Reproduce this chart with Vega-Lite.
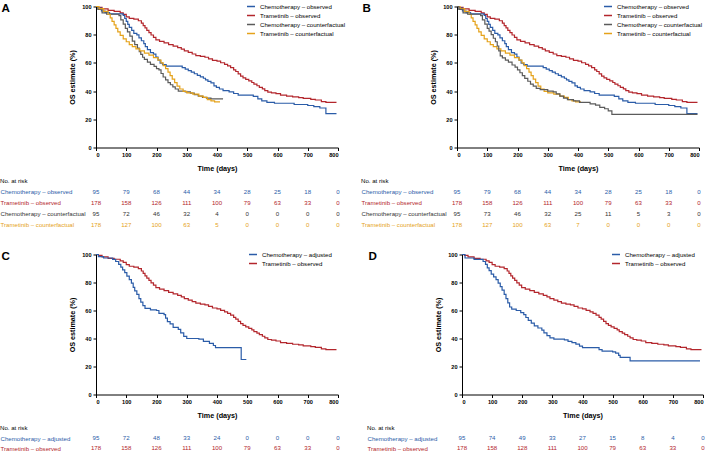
{
"$schema": "https://vega.github.io/schema/vega-lite/v6.json",
"padding": {"left": 0, "top": 1.5, "right": 0, "bottom": 0},
"datasets": {
"km": [
{"p":"ABCD","s":"Trametinib – observed","t":0,"v":100},{"p":"ABCD","s":"Trametinib – observed","t":8,"v":99.4},{"p":"ABCD","s":"Trametinib – observed","t":20,"v":98.3},{"p":"ABCD","s":"Trametinib – observed","t":40,"v":97.2},{"p":"ABCD","s":"Trametinib – observed","t":60,"v":96.6},{"p":"ABCD","s":"Trametinib – observed","t":80,"v":95.5},{"p":"ABCD","s":"Trametinib – observed","t":90,"v":94.4},{"p":"ABCD","s":"Trametinib – observed","t":100,"v":92.7},{"p":"ABCD","s":"Trametinib – observed","t":110,"v":91.6},{"p":"ABCD","s":"Trametinib – observed","t":125,"v":91.0},{"p":"ABCD","s":"Trametinib – observed","t":140,"v":89.9},{"p":"ABCD","s":"Trametinib – observed","t":150,"v":88.2},{"p":"ABCD","s":"Trametinib – observed","t":156,"v":86.5},{"p":"ABCD","s":"Trametinib – observed","t":162,"v":84.8},{"p":"ABCD","s":"Trametinib – observed","t":168,"v":83.1},{"p":"ABCD","s":"Trametinib – observed","t":175,"v":81.5},{"p":"ABCD","s":"Trametinib – observed","t":182,"v":79.8},{"p":"ABCD","s":"Trametinib – observed","t":190,"v":78.1},{"p":"ABCD","s":"Trametinib – observed","t":198,"v":76.4},{"p":"ABCD","s":"Trametinib – observed","t":210,"v":75.3},{"p":"ABCD","s":"Trametinib – observed","t":225,"v":74.2},{"p":"ABCD","s":"Trametinib – observed","t":240,"v":73.0},{"p":"ABCD","s":"Trametinib – observed","t":255,"v":71.9},{"p":"ABCD","s":"Trametinib – observed","t":270,"v":70.8},{"p":"ABCD","s":"Trametinib – observed","t":282,"v":69.7},{"p":"ABCD","s":"Trametinib – observed","t":292,"v":68.5},{"p":"ABCD","s":"Trametinib – observed","t":305,"v":67.4},{"p":"ABCD","s":"Trametinib – observed","t":318,"v":66.3},{"p":"ABCD","s":"Trametinib – observed","t":330,"v":65.2},{"p":"ABCD","s":"Trametinib – observed","t":345,"v":64.6},{"p":"ABCD","s":"Trametinib – observed","t":360,"v":64.0},{"p":"ABCD","s":"Trametinib – observed","t":372,"v":62.9},{"p":"ABCD","s":"Trametinib – observed","t":385,"v":61.8},{"p":"ABCD","s":"Trametinib – observed","t":400,"v":61.2},{"p":"ABCD","s":"Trametinib – observed","t":412,"v":60.1},{"p":"ABCD","s":"Trametinib – observed","t":425,"v":59.0},{"p":"ABCD","s":"Trametinib – observed","t":435,"v":57.9},{"p":"ABCD","s":"Trametinib – observed","t":445,"v":56.7},{"p":"ABCD","s":"Trametinib – observed","t":455,"v":55.1},{"p":"ABCD","s":"Trametinib – observed","t":462,"v":53.9},{"p":"ABCD","s":"Trametinib – observed","t":470,"v":52.2},{"p":"ABCD","s":"Trametinib – observed","t":478,"v":50.6},{"p":"ABCD","s":"Trametinib – observed","t":486,"v":49.4},{"p":"ABCD","s":"Trametinib – observed","t":495,"v":48.3},{"p":"ABCD","s":"Trametinib – observed","t":505,"v":47.2},{"p":"ABCD","s":"Trametinib – observed","t":515,"v":46.1},{"p":"ABCD","s":"Trametinib – observed","t":522,"v":44.9},{"p":"ABCD","s":"Trametinib – observed","t":532,"v":43.8},{"p":"ABCD","s":"Trametinib – observed","t":540,"v":42.7},{"p":"ABCD","s":"Trametinib – observed","t":550,"v":41.6},{"p":"ABCD","s":"Trametinib – observed","t":558,"v":40.4},{"p":"ABCD","s":"Trametinib – observed","t":568,"v":39.3},{"p":"ABCD","s":"Trametinib – observed","t":580,"v":38.8},{"p":"ABCD","s":"Trametinib – observed","t":595,"v":38.2},{"p":"ABCD","s":"Trametinib – observed","t":610,"v":37.1},{"p":"ABCD","s":"Trametinib – observed","t":630,"v":36.5},{"p":"ABCD","s":"Trametinib – observed","t":650,"v":35.9},{"p":"ABCD","s":"Trametinib – observed","t":670,"v":35.4},{"p":"ABCD","s":"Trametinib – observed","t":685,"v":34.8},{"p":"ABCD","s":"Trametinib – observed","t":710,"v":34.2},{"p":"ABCD","s":"Trametinib – observed","t":725,"v":33.7},{"p":"ABCD","s":"Trametinib – observed","t":745,"v":32.6},{"p":"ABCD","s":"Trametinib – observed","t":760,"v":32.0},{"p":"ABCD","s":"Trametinib – observed","t":795,"v":32.0},

{"p":"AB","s":"Chemotherapy – observed","t":0,"v":100},{"p":"AB","s":"Chemotherapy – observed","t":8,"v":98.9},{"p":"AB","s":"Chemotherapy – observed","t":18,"v":96.8},{"p":"AB","s":"Chemotherapy – observed","t":30,"v":95.7},{"p":"AB","s":"Chemotherapy – observed","t":45,"v":94.7},{"p":"AB","s":"Chemotherapy – observed","t":90,"v":93.6},{"p":"AB","s":"Chemotherapy – observed","t":95,"v":91.5},{"p":"AB","s":"Chemotherapy – observed","t":100,"v":89.4},{"p":"AB","s":"Chemotherapy – observed","t":105,"v":87.3},{"p":"AB","s":"Chemotherapy – observed","t":110,"v":85.2},{"p":"AB","s":"Chemotherapy – observed","t":118,"v":83.1},{"p":"AB","s":"Chemotherapy – observed","t":125,"v":81.0},{"p":"AB","s":"Chemotherapy – observed","t":135,"v":79.9},{"p":"AB","s":"Chemotherapy – observed","t":142,"v":77.8},{"p":"AB","s":"Chemotherapy – observed","t":150,"v":75.7},{"p":"AB","s":"Chemotherapy – observed","t":158,"v":73.6},{"p":"AB","s":"Chemotherapy – observed","t":163,"v":71.5},{"p":"AB","s":"Chemotherapy – observed","t":170,"v":69.4},{"p":"AB","s":"Chemotherapy – observed","t":180,"v":67.3},{"p":"AB","s":"Chemotherapy – observed","t":190,"v":66.2},{"p":"AB","s":"Chemotherapy – observed","t":198,"v":64.1},{"p":"AB","s":"Chemotherapy – observed","t":205,"v":62.0},{"p":"AB","s":"Chemotherapy – observed","t":212,"v":59.9},{"p":"AB","s":"Chemotherapy – observed","t":220,"v":58.8},{"p":"AB","s":"Chemotherapy – observed","t":232,"v":57.7},{"p":"AB","s":"Chemotherapy – observed","t":285,"v":56.7},{"p":"AB","s":"Chemotherapy – observed","t":295,"v":55.6},{"p":"AB","s":"Chemotherapy – observed","t":305,"v":54.5},{"p":"AB","s":"Chemotherapy – observed","t":315,"v":53.4},{"p":"AB","s":"Chemotherapy – observed","t":325,"v":52.3},{"p":"AB","s":"Chemotherapy – observed","t":335,"v":51.2},{"p":"AB","s":"Chemotherapy – observed","t":345,"v":50.1},{"p":"AB","s":"Chemotherapy – observed","t":355,"v":49.1},{"p":"AB","s":"Chemotherapy – observed","t":362,"v":48.0},{"p":"AB","s":"Chemotherapy – observed","t":370,"v":46.9},{"p":"AB","s":"Chemotherapy – observed","t":380,"v":45.8},{"p":"AB","s":"Chemotherapy – observed","t":390,"v":43.7},{"p":"AB","s":"Chemotherapy – observed","t":398,"v":42.6},{"p":"AB","s":"Chemotherapy – observed","t":408,"v":41.5},{"p":"AB","s":"Chemotherapy – observed","t":420,"v":40.4},{"p":"AB","s":"Chemotherapy – observed","t":440,"v":39.4},{"p":"AB","s":"Chemotherapy – observed","t":455,"v":38.3},{"p":"AB","s":"Chemotherapy – observed","t":470,"v":37.2},{"p":"AB","s":"Chemotherapy – observed","t":520,"v":36.2},{"p":"AB","s":"Chemotherapy – observed","t":535,"v":34.5},{"p":"AB","s":"Chemotherapy – observed","t":548,"v":33.0},{"p":"AB","s":"Chemotherapy – observed","t":565,"v":32.0},{"p":"AB","s":"Chemotherapy – observed","t":590,"v":31.4},{"p":"AB","s":"Chemotherapy – observed","t":655,"v":30.5},{"p":"AB","s":"Chemotherapy – observed","t":700,"v":29.8},{"p":"AB","s":"Chemotherapy – observed","t":720,"v":29.0},{"p":"AB","s":"Chemotherapy – observed","t":740,"v":28.0},{"p":"AB","s":"Chemotherapy – observed","t":760,"v":24.0},{"p":"AB","s":"Chemotherapy – observed","t":795,"v":24.0},

{"p":"A","s":"Chemotherapy – counterfactual","t":0,"v":100},{"p":"A","s":"Chemotherapy – counterfactual","t":6,"v":98.0},{"p":"A","s":"Chemotherapy – counterfactual","t":20,"v":95.5},{"p":"A","s":"Chemotherapy – counterfactual","t":35,"v":94.5},{"p":"A","s":"Chemotherapy – counterfactual","t":76,"v":93.5},{"p":"A","s":"Chemotherapy – counterfactual","t":82,"v":90.5},{"p":"A","s":"Chemotherapy – counterfactual","t":90,"v":87.5},{"p":"A","s":"Chemotherapy – counterfactual","t":97,"v":84.5},{"p":"A","s":"Chemotherapy – counterfactual","t":104,"v":82.0},{"p":"A","s":"Chemotherapy – counterfactual","t":112,"v":79.0},{"p":"A","s":"Chemotherapy – counterfactual","t":120,"v":75.5},{"p":"A","s":"Chemotherapy – counterfactual","t":128,"v":73.0},{"p":"A","s":"Chemotherapy – counterfactual","t":137,"v":70.5},{"p":"A","s":"Chemotherapy – counterfactual","t":143,"v":68.0},{"p":"A","s":"Chemotherapy – counterfactual","t":148,"v":66.0},{"p":"A","s":"Chemotherapy – counterfactual","t":154,"v":64.0},{"p":"A","s":"Chemotherapy – counterfactual","t":160,"v":62.5},{"p":"A","s":"Chemotherapy – counterfactual","t":170,"v":60.5},{"p":"A","s":"Chemotherapy – counterfactual","t":180,"v":59.0},{"p":"A","s":"Chemotherapy – counterfactual","t":192,"v":57.5},{"p":"A","s":"Chemotherapy – counterfactual","t":200,"v":56.0},{"p":"A","s":"Chemotherapy – counterfactual","t":208,"v":55.0},{"p":"A","s":"Chemotherapy – counterfactual","t":215,"v":52.5},{"p":"A","s":"Chemotherapy – counterfactual","t":222,"v":50.0},{"p":"A","s":"Chemotherapy – counterfactual","t":230,"v":48.0},{"p":"A","s":"Chemotherapy – counterfactual","t":238,"v":46.0},{"p":"A","s":"Chemotherapy – counterfactual","t":246,"v":44.5},{"p":"A","s":"Chemotherapy – counterfactual","t":254,"v":43.0},{"p":"A","s":"Chemotherapy – counterfactual","t":262,"v":41.5},{"p":"A","s":"Chemotherapy – counterfactual","t":272,"v":40.0},{"p":"A","s":"Chemotherapy – counterfactual","t":295,"v":39.5},{"p":"A","s":"Chemotherapy – counterfactual","t":312,"v":38.5},{"p":"A","s":"Chemotherapy – counterfactual","t":325,"v":37.5},{"p":"A","s":"Chemotherapy – counterfactual","t":338,"v":36.5},{"p":"A","s":"Chemotherapy – counterfactual","t":352,"v":35.5},{"p":"A","s":"Chemotherapy – counterfactual","t":365,"v":35.0},{"p":"A","s":"Chemotherapy – counterfactual","t":380,"v":34.5},{"p":"A","s":"Chemotherapy – counterfactual","t":420,"v":34.5},

{"p":"AB","s":"Trametinib – counterfactual","t":0,"v":100},{"p":"AB","s":"Trametinib – counterfactual","t":10,"v":98.5},{"p":"AB","s":"Trametinib – counterfactual","t":25,"v":96.5},{"p":"AB","s":"Trametinib – counterfactual","t":40,"v":94.5},{"p":"AB","s":"Trametinib – counterfactual","t":47,"v":92.0},{"p":"AB","s":"Trametinib – counterfactual","t":53,"v":89.5},{"p":"AB","s":"Trametinib – counterfactual","t":60,"v":87.0},{"p":"AB","s":"Trametinib – counterfactual","t":66,"v":84.5},{"p":"AB","s":"Trametinib – counterfactual","t":72,"v":82.0},{"p":"AB","s":"Trametinib – counterfactual","t":80,"v":79.5},{"p":"AB","s":"Trametinib – counterfactual","t":90,"v":77.0},{"p":"AB","s":"Trametinib – counterfactual","t":100,"v":75.0},{"p":"AB","s":"Trametinib – counterfactual","t":110,"v":73.0},{"p":"AB","s":"Trametinib – counterfactual","t":120,"v":71.5},{"p":"AB","s":"Trametinib – counterfactual","t":132,"v":70.0},{"p":"AB","s":"Trametinib – counterfactual","t":145,"v":68.5},{"p":"AB","s":"Trametinib – counterfactual","t":160,"v":67.0},{"p":"AB","s":"Trametinib – counterfactual","t":175,"v":65.5},{"p":"AB","s":"Trametinib – counterfactual","t":190,"v":63.8},{"p":"AB","s":"Trametinib – counterfactual","t":205,"v":62.0},{"p":"AB","s":"Trametinib – counterfactual","t":215,"v":60.0},{"p":"AB","s":"Trametinib – counterfactual","t":222,"v":58.0},{"p":"AB","s":"Trametinib – counterfactual","t":230,"v":56.0},{"p":"AB","s":"Trametinib – counterfactual","t":238,"v":53.5},{"p":"AB","s":"Trametinib – counterfactual","t":245,"v":51.0},{"p":"AB","s":"Trametinib – counterfactual","t":252,"v":48.5},{"p":"AB","s":"Trametinib – counterfactual","t":260,"v":46.0},{"p":"AB","s":"Trametinib – counterfactual","t":268,"v":43.5},{"p":"AB","s":"Trametinib – counterfactual","t":277,"v":41.5},{"p":"AB","s":"Trametinib – counterfactual","t":288,"v":39.8},{"p":"AB","s":"Trametinib – counterfactual","t":300,"v":38.8},{"p":"AB","s":"Trametinib – counterfactual","t":320,"v":37.8},{"p":"AB","s":"Trametinib – counterfactual","t":340,"v":36.5},{"p":"AB","s":"Trametinib – counterfactual","t":355,"v":35.5},{"p":"AB","s":"Trametinib – counterfactual","t":368,"v":34.0},{"p":"AB","s":"Trametinib – counterfactual","t":380,"v":33.0},{"p":"AB","s":"Trametinib – counterfactual","t":392,"v":32.3},{"p":"AB","s":"Trametinib – counterfactual","t":410,"v":32.3},

{"p":"B","s":"Chemotherapy – counterfactual","t":0,"v":100},{"p":"B","s":"Chemotherapy – counterfactual","t":6,"v":98.0},{"p":"B","s":"Chemotherapy – counterfactual","t":20,"v":95.5},{"p":"B","s":"Chemotherapy – counterfactual","t":35,"v":94.5},{"p":"B","s":"Chemotherapy – counterfactual","t":78,"v":93.5},{"p":"B","s":"Chemotherapy – counterfactual","t":84,"v":90.5},{"p":"B","s":"Chemotherapy – counterfactual","t":92,"v":87.5},{"p":"B","s":"Chemotherapy – counterfactual","t":100,"v":84.5},{"p":"B","s":"Chemotherapy – counterfactual","t":106,"v":82.5},{"p":"B","s":"Chemotherapy – counterfactual","t":113,"v":80.0},{"p":"B","s":"Chemotherapy – counterfactual","t":120,"v":77.5},{"p":"B","s":"Chemotherapy – counterfactual","t":127,"v":75.0},{"p":"B","s":"Chemotherapy – counterfactual","t":133,"v":72.0},{"p":"B","s":"Chemotherapy – counterfactual","t":138,"v":68.5},{"p":"B","s":"Chemotherapy – counterfactual","t":143,"v":65.0},{"p":"B","s":"Chemotherapy – counterfactual","t":150,"v":63.5},{"p":"B","s":"Chemotherapy – counterfactual","t":160,"v":62.0},{"p":"B","s":"Chemotherapy – counterfactual","t":170,"v":60.5},{"p":"B","s":"Chemotherapy – counterfactual","t":182,"v":58.5},{"p":"B","s":"Chemotherapy – counterfactual","t":192,"v":57.0},{"p":"B","s":"Chemotherapy – counterfactual","t":200,"v":55.0},{"p":"B","s":"Chemotherapy – counterfactual","t":208,"v":53.0},{"p":"B","s":"Chemotherapy – counterfactual","t":216,"v":51.0},{"p":"B","s":"Chemotherapy – counterfactual","t":224,"v":49.0},{"p":"B","s":"Chemotherapy – counterfactual","t":234,"v":47.0},{"p":"B","s":"Chemotherapy – counterfactual","t":243,"v":45.0},{"p":"B","s":"Chemotherapy – counterfactual","t":252,"v":43.5},{"p":"B","s":"Chemotherapy – counterfactual","t":262,"v":42.0},{"p":"B","s":"Chemotherapy – counterfactual","t":275,"v":41.0},{"p":"B","s":"Chemotherapy – counterfactual","t":300,"v":40.0},{"p":"B","s":"Chemotherapy – counterfactual","t":318,"v":39.5},{"p":"B","s":"Chemotherapy – counterfactual","t":328,"v":38.0},{"p":"B","s":"Chemotherapy – counterfactual","t":340,"v":36.5},{"p":"B","s":"Chemotherapy – counterfactual","t":352,"v":35.0},{"p":"B","s":"Chemotherapy – counterfactual","t":365,"v":34.0},{"p":"B","s":"Chemotherapy – counterfactual","t":385,"v":33.0},{"p":"B","s":"Chemotherapy – counterfactual","t":405,"v":32.0},{"p":"B","s":"Chemotherapy – counterfactual","t":440,"v":31.0},{"p":"B","s":"Chemotherapy – counterfactual","t":458,"v":30.0},{"p":"B","s":"Chemotherapy – counterfactual","t":472,"v":28.5},{"p":"B","s":"Chemotherapy – counterfactual","t":488,"v":27.5},{"p":"B","s":"Chemotherapy – counterfactual","t":500,"v":26.0},{"p":"B","s":"Chemotherapy – counterfactual","t":512,"v":23.5},{"p":"B","s":"Chemotherapy – counterfactual","t":795,"v":23.5},

{"p":"C","s":"Chemotherapy – adjusted","t":0,"v":100},{"p":"C","s":"Chemotherapy – adjusted","t":8,"v":98.5},{"p":"C","s":"Chemotherapy – adjusted","t":25,"v":97.5},{"p":"C","s":"Chemotherapy – adjusted","t":55,"v":96.5},{"p":"C","s":"Chemotherapy – adjusted","t":65,"v":95.0},{"p":"C","s":"Chemotherapy – adjusted","t":75,"v":93.0},{"p":"C","s":"Chemotherapy – adjusted","t":82,"v":91.0},{"p":"C","s":"Chemotherapy – adjusted","t":88,"v":89.0},{"p":"C","s":"Chemotherapy – adjusted","t":95,"v":87.0},{"p":"C","s":"Chemotherapy – adjusted","t":102,"v":84.5},{"p":"C","s":"Chemotherapy – adjusted","t":110,"v":82.0},{"p":"C","s":"Chemotherapy – adjusted","t":117,"v":79.5},{"p":"C","s":"Chemotherapy – adjusted","t":123,"v":76.5},{"p":"C","s":"Chemotherapy – adjusted","t":128,"v":74.0},{"p":"C","s":"Chemotherapy – adjusted","t":135,"v":71.5},{"p":"C","s":"Chemotherapy – adjusted","t":142,"v":68.5},{"p":"C","s":"Chemotherapy – adjusted","t":148,"v":66.0},{"p":"C","s":"Chemotherapy – adjusted","t":155,"v":63.5},{"p":"C","s":"Chemotherapy – adjusted","t":162,"v":61.5},{"p":"C","s":"Chemotherapy – adjusted","t":180,"v":60.5},{"p":"C","s":"Chemotherapy – adjusted","t":200,"v":60.0},{"p":"C","s":"Chemotherapy – adjusted","t":208,"v":58.0},{"p":"C","s":"Chemotherapy – adjusted","t":225,"v":57.0},{"p":"C","s":"Chemotherapy – adjusted","t":230,"v":54.5},{"p":"C","s":"Chemotherapy – adjusted","t":236,"v":52.0},{"p":"C","s":"Chemotherapy – adjusted","t":245,"v":50.5},{"p":"C","s":"Chemotherapy – adjusted","t":255,"v":48.0},{"p":"C","s":"Chemotherapy – adjusted","t":272,"v":46.5},{"p":"C","s":"Chemotherapy – adjusted","t":280,"v":44.0},{"p":"C","s":"Chemotherapy – adjusted","t":290,"v":41.5},{"p":"C","s":"Chemotherapy – adjusted","t":300,"v":40.0},{"p":"C","s":"Chemotherapy – adjusted","t":340,"v":39.5},{"p":"C","s":"Chemotherapy – adjusted","t":355,"v":38.0},{"p":"C","s":"Chemotherapy – adjusted","t":375,"v":36.5},{"p":"C","s":"Chemotherapy – adjusted","t":388,"v":35.0},{"p":"C","s":"Chemotherapy – adjusted","t":395,"v":33.5},{"p":"C","s":"Chemotherapy – adjusted","t":478,"v":33.5},{"p":"C","s":"Chemotherapy – adjusted","t":480,"v":25.0},{"p":"C","s":"Chemotherapy – adjusted","t":497,"v":25.0},

{"p":"D","s":"Chemotherapy – adjusted","t":0,"v":100},{"p":"D","s":"Chemotherapy – adjusted","t":10,"v":97.5},{"p":"D","s":"Chemotherapy – adjusted","t":40,"v":96.5},{"p":"D","s":"Chemotherapy – adjusted","t":70,"v":95.0},{"p":"D","s":"Chemotherapy – adjusted","t":78,"v":93.0},{"p":"D","s":"Chemotherapy – adjusted","t":84,"v":90.5},{"p":"D","s":"Chemotherapy – adjusted","t":90,"v":88.5},{"p":"D","s":"Chemotherapy – adjusted","t":97,"v":86.0},{"p":"D","s":"Chemotherapy – adjusted","t":105,"v":84.0},{"p":"D","s":"Chemotherapy – adjusted","t":113,"v":82.0},{"p":"D","s":"Chemotherapy – adjusted","t":120,"v":79.5},{"p":"D","s":"Chemotherapy – adjusted","t":127,"v":77.0},{"p":"D","s":"Chemotherapy – adjusted","t":133,"v":74.5},{"p":"D","s":"Chemotherapy – adjusted","t":140,"v":71.5},{"p":"D","s":"Chemotherapy – adjusted","t":146,"v":68.5},{"p":"D","s":"Chemotherapy – adjusted","t":152,"v":65.5},{"p":"D","s":"Chemotherapy – adjusted","t":158,"v":62.5},{"p":"D","s":"Chemotherapy – adjusted","t":165,"v":61.0},{"p":"D","s":"Chemotherapy – adjusted","t":180,"v":60.0},{"p":"D","s":"Chemotherapy – adjusted","t":195,"v":58.5},{"p":"D","s":"Chemotherapy – adjusted","t":205,"v":57.0},{"p":"D","s":"Chemotherapy – adjusted","t":212,"v":55.0},{"p":"D","s":"Chemotherapy – adjusted","t":220,"v":53.0},{"p":"D","s":"Chemotherapy – adjusted","t":230,"v":51.0},{"p":"D","s":"Chemotherapy – adjusted","t":240,"v":49.0},{"p":"D","s":"Chemotherapy – adjusted","t":252,"v":47.5},{"p":"D","s":"Chemotherapy – adjusted","t":265,"v":46.0},{"p":"D","s":"Chemotherapy – adjusted","t":272,"v":44.0},{"p":"D","s":"Chemotherapy – adjusted","t":282,"v":42.0},{"p":"D","s":"Chemotherapy – adjusted","t":292,"v":40.5},{"p":"D","s":"Chemotherapy – adjusted","t":305,"v":39.5},{"p":"D","s":"Chemotherapy – adjusted","t":340,"v":39.0},{"p":"D","s":"Chemotherapy – adjusted","t":352,"v":38.0},{"p":"D","s":"Chemotherapy – adjusted","t":365,"v":37.0},{"p":"D","s":"Chemotherapy – adjusted","t":378,"v":36.0},{"p":"D","s":"Chemotherapy – adjusted","t":390,"v":34.5},{"p":"D","s":"Chemotherapy – adjusted","t":400,"v":33.5},{"p":"D","s":"Chemotherapy – adjusted","t":440,"v":33.5},{"p":"D","s":"Chemotherapy – adjusted","t":455,"v":32.0},{"p":"D","s":"Chemotherapy – adjusted","t":465,"v":31.0},{"p":"D","s":"Chemotherapy – adjusted","t":500,"v":30.5},{"p":"D","s":"Chemotherapy – adjusted","t":510,"v":29.5},{"p":"D","s":"Chemotherapy – adjusted","t":520,"v":28.0},{"p":"D","s":"Chemotherapy – adjusted","t":525,"v":26.5},{"p":"D","s":"Chemotherapy – adjusted","t":555,"v":26.5},{"p":"D","s":"Chemotherapy – adjusted","t":558,"v":24.0},{"p":"D","s":"Chemotherapy – adjusted","t":790,"v":24.0}
],
"risk": [
{"p":"AB","s":"Chemotherapy – observed","t":0,"n":95},{"p":"AB","s":"Chemotherapy – observed","t":100,"n":79},{"p":"AB","s":"Chemotherapy – observed","t":200,"n":68},{"p":"AB","s":"Chemotherapy – observed","t":300,"n":44},{"p":"AB","s":"Chemotherapy – observed","t":400,"n":34},{"p":"AB","s":"Chemotherapy – observed","t":500,"n":28},{"p":"AB","s":"Chemotherapy – observed","t":600,"n":25},{"p":"AB","s":"Chemotherapy – observed","t":700,"n":18},{"p":"AB","s":"Chemotherapy – observed","t":800,"n":0},
{"p":"ABC","s":"Trametinib – observed","t":0,"n":178},{"p":"ABC","s":"Trametinib – observed","t":100,"n":158},{"p":"ABC","s":"Trametinib – observed","t":200,"n":126},{"p":"ABC","s":"Trametinib – observed","t":300,"n":111},{"p":"ABC","s":"Trametinib – observed","t":400,"n":100},{"p":"ABC","s":"Trametinib – observed","t":500,"n":79},{"p":"ABC","s":"Trametinib – observed","t":600,"n":63},{"p":"ABC","s":"Trametinib – observed","t":700,"n":33},{"p":"ABC","s":"Trametinib – observed","t":800,"n":0},
{"p":"D","s":"Trametinib – observed","t":0,"n":178},{"p":"D","s":"Trametinib – observed","t":100,"n":158},{"p":"D","s":"Trametinib – observed","t":200,"n":128},{"p":"D","s":"Trametinib – observed","t":300,"n":111},{"p":"D","s":"Trametinib – observed","t":400,"n":100},{"p":"D","s":"Trametinib – observed","t":500,"n":79},{"p":"D","s":"Trametinib – observed","t":600,"n":63},{"p":"D","s":"Trametinib – observed","t":700,"n":33},{"p":"D","s":"Trametinib – observed","t":800,"n":0},
{"p":"A","s":"Chemotherapy – counterfactual","t":0,"n":95},{"p":"A","s":"Chemotherapy – counterfactual","t":100,"n":72},{"p":"A","s":"Chemotherapy – counterfactual","t":200,"n":46},{"p":"A","s":"Chemotherapy – counterfactual","t":300,"n":32},{"p":"A","s":"Chemotherapy – counterfactual","t":400,"n":4},{"p":"A","s":"Chemotherapy – counterfactual","t":500,"n":0},{"p":"A","s":"Chemotherapy – counterfactual","t":600,"n":0},{"p":"A","s":"Chemotherapy – counterfactual","t":700,"n":0},{"p":"A","s":"Chemotherapy – counterfactual","t":800,"n":0},
{"p":"B","s":"Chemotherapy – counterfactual","t":0,"n":95},{"p":"B","s":"Chemotherapy – counterfactual","t":100,"n":73},{"p":"B","s":"Chemotherapy – counterfactual","t":200,"n":46},{"p":"B","s":"Chemotherapy – counterfactual","t":300,"n":32},{"p":"B","s":"Chemotherapy – counterfactual","t":400,"n":25},{"p":"B","s":"Chemotherapy – counterfactual","t":500,"n":11},{"p":"B","s":"Chemotherapy – counterfactual","t":600,"n":5},{"p":"B","s":"Chemotherapy – counterfactual","t":700,"n":3},{"p":"B","s":"Chemotherapy – counterfactual","t":800,"n":0},
{"p":"A","s":"Trametinib – counterfactual","t":0,"n":178},{"p":"A","s":"Trametinib – counterfactual","t":100,"n":127},{"p":"A","s":"Trametinib – counterfactual","t":200,"n":100},{"p":"A","s":"Trametinib – counterfactual","t":300,"n":63},{"p":"A","s":"Trametinib – counterfactual","t":400,"n":5},{"p":"A","s":"Trametinib – counterfactual","t":500,"n":0},{"p":"A","s":"Trametinib – counterfactual","t":600,"n":0},{"p":"A","s":"Trametinib – counterfactual","t":700,"n":0},{"p":"A","s":"Trametinib – counterfactual","t":800,"n":0},
{"p":"B","s":"Trametinib – counterfactual","t":0,"n":178},{"p":"B","s":"Trametinib – counterfactual","t":100,"n":127},{"p":"B","s":"Trametinib – counterfactual","t":200,"n":100},{"p":"B","s":"Trametinib – counterfactual","t":300,"n":63},{"p":"B","s":"Trametinib – counterfactual","t":400,"n":7},{"p":"B","s":"Trametinib – counterfactual","t":500,"n":0},{"p":"B","s":"Trametinib – counterfactual","t":600,"n":0},{"p":"B","s":"Trametinib – counterfactual","t":700,"n":0},{"p":"B","s":"Trametinib – counterfactual","t":800,"n":0},
{"p":"C","s":"Chemotherapy – adjusted","t":0,"n":95},{"p":"C","s":"Chemotherapy – adjusted","t":100,"n":72},{"p":"C","s":"Chemotherapy – adjusted","t":200,"n":48},{"p":"C","s":"Chemotherapy – adjusted","t":300,"n":33},{"p":"C","s":"Chemotherapy – adjusted","t":400,"n":24},{"p":"C","s":"Chemotherapy – adjusted","t":500,"n":0},{"p":"C","s":"Chemotherapy – adjusted","t":600,"n":0},{"p":"C","s":"Chemotherapy – adjusted","t":700,"n":0},{"p":"C","s":"Chemotherapy – adjusted","t":800,"n":0},
{"p":"D","s":"Chemotherapy – adjusted","t":0,"n":95},{"p":"D","s":"Chemotherapy – adjusted","t":100,"n":74},{"p":"D","s":"Chemotherapy – adjusted","t":200,"n":49},{"p":"D","s":"Chemotherapy – adjusted","t":300,"n":33},{"p":"D","s":"Chemotherapy – adjusted","t":400,"n":27},{"p":"D","s":"Chemotherapy – adjusted","t":500,"n":15},{"p":"D","s":"Chemotherapy – adjusted","t":600,"n":8},{"p":"D","s":"Chemotherapy – adjusted","t":700,"n":4},{"p":"D","s":"Chemotherapy – adjusted","t":800,"n":0}
]
},
"spacing": 19,
"resolve": {"scale": {"color": "independent"}, "legend": {"color": "independent"}},
"vconcat": [
{
"spacing": 15,
"resolve": {"scale": {"color": "independent"}, "legend": {"color": "independent"}},
"hconcat": [
{
"title": {"text": "A", "anchor": "start", "frame": "bounds", "fontSize": 11.6, "fontWeight": "bold", "offset": -13.5, "dx": 1.5},
"bounds": "flush", "spacing": 38.5,
"resolve": {"scale": {"color": "independent"}, "legend": {"color": "independent"}},
"vconcat": [
{
"width": 242, "height": 141,
"data": {"name": "km"},
"transform": [{"filter": {"field": "p", "oneOf": ["A", "AB", "ABC", "ABCD"]}}],
"mark": {"type": "line", "interpolate": "step-after", "strokeWidth": 1.2},
"encoding": {
"x": {"field": "t", "type": "quantitative", "scale": {"domain": [0, 800], "nice": false}, "axis": {"title": "Time (days)", "values": [0,100,200,300,400,500,600,700,800]}},
"y": {"field": "v", "type": "quantitative", "scale": {"domain": [0, 100], "nice": false}, "axis": {"title": "OS estimate (%)", "values": [0,20,40,60,80,100]}},
"color": {"field": "s", "type": "nominal", "scale": {"domain": ["Chemotherapy – observed", "Trametinib – observed", "Chemotherapy – counterfactual", "Trametinib – counterfactual"], "range": ["#2B5CA8", "#B3262C", "#5B5B5B", "#E5A21A"]}, "legend": {"orient": "none", "legendX": 150, "legendY": -5, "title": null}}
}
},
{
"width": 242, "height": {"step": 11},
"title": {"text": "No. at risk", "anchor": "start", "frame": "bounds", "fontSize": 6.1, "fontWeight": "normal", "offset": 2},
"data": {"name": "risk"},
"transform": [{"filter": {"field": "p", "oneOf": ["A", "AB", "ABC", "ABCD"]}}],
"mark": {"type": "text", "fontSize": 6.1, "align": "center", "baseline": "middle"},
"encoding": {
"x": {"field": "t", "type": "quantitative", "scale": {"domain": [0, 800], "nice": false}, "axis": null},
"y": {"field": "s", "type": "nominal", "scale": {"domain": ["Chemotherapy – observed", "Trametinib – observed", "Chemotherapy – counterfactual", "Trametinib – counterfactual"]}, "axis": {"title": null, "domain": false, "ticks": false, "labelAlign": "left", "labelPadding": 96, "labelFontSize": 6.1, "labelFontWeight": "normal", "labelLimit": 0, "labelColor": {"condition": [{"test": "datum.value === 'Chemotherapy – observed'", "value": "#2B5CA8"}, {"test": "datum.value === 'Trametinib – observed'", "value": "#B3262C"}, {"test": "datum.value === 'Trametinib – counterfactual'", "value": "#E5A21A"}], "value": "#333333"}}},
"text": {"field": "n", "type": "quantitative"},
"color": {"field": "s", "type": "nominal", "scale": {"domain": ["Chemotherapy – observed", "Trametinib – observed", "Chemotherapy – counterfactual", "Trametinib – counterfactual"], "range": ["#2B5CA8", "#B3262C", "#333333", "#E5A21A"]}, "legend": null}
}
}
]
},
{
"title": {"text": "B", "anchor": "start", "frame": "bounds", "fontSize": 11.6, "fontWeight": "bold", "offset": -13.5, "dx": 1.5},
"bounds": "flush", "spacing": 38.5,
"resolve": {"scale": {"color": "independent"}, "legend": {"color": "independent"}},
"vconcat": [
{
"width": 242, "height": 141,
"data": {"name": "km"},
"transform": [{"filter": {"field": "p", "oneOf": ["B", "AB", "ABC", "ABCD"]}}],
"mark": {"type": "line", "interpolate": "step-after", "strokeWidth": 1.2},
"encoding": {
"x": {"field": "t", "type": "quantitative", "scale": {"domain": [0, 800], "nice": false}, "axis": {"title": "Time (days)", "values": [0,100,200,300,400,500,600,700,800]}},
"y": {"field": "v", "type": "quantitative", "scale": {"domain": [0, 100], "nice": false}, "axis": {"title": "OS estimate (%)", "values": [0,20,40,60,80,100]}},
"color": {"field": "s", "type": "nominal", "scale": {"domain": ["Chemotherapy – observed", "Trametinib – observed", "Chemotherapy – counterfactual", "Trametinib – counterfactual"], "range": ["#2B5CA8", "#B3262C", "#5B5B5B", "#E5A21A"]}, "legend": {"orient": "none", "legendX": 146, "legendY": -5, "title": null}}
}
},
{
"width": 242, "height": {"step": 11},
"title": {"text": "No. at risk", "anchor": "start", "frame": "bounds", "fontSize": 6.1, "fontWeight": "normal", "offset": 2},
"data": {"name": "risk"},
"transform": [{"filter": {"field": "p", "oneOf": ["B", "AB", "ABC", "ABCD"]}}],
"mark": {"type": "text", "fontSize": 6.1, "align": "center", "baseline": "middle"},
"encoding": {
"x": {"field": "t", "type": "quantitative", "scale": {"domain": [0, 800], "nice": false}, "axis": null},
"y": {"field": "s", "type": "nominal", "scale": {"domain": ["Chemotherapy – observed", "Trametinib – observed", "Chemotherapy – counterfactual", "Trametinib – counterfactual"]}, "axis": {"title": null, "domain": false, "ticks": false, "labelAlign": "left", "labelPadding": 96, "labelFontSize": 6.1, "labelFontWeight": "normal", "labelLimit": 0, "labelColor": {"condition": [{"test": "datum.value === 'Chemotherapy – observed'", "value": "#2B5CA8"}, {"test": "datum.value === 'Trametinib – observed'", "value": "#B3262C"}, {"test": "datum.value === 'Trametinib – counterfactual'", "value": "#E5A21A"}], "value": "#333333"}}},
"text": {"field": "n", "type": "quantitative"},
"color": {"field": "s", "type": "nominal", "scale": {"domain": ["Chemotherapy – observed", "Trametinib – observed", "Chemotherapy – counterfactual", "Trametinib – counterfactual"], "range": ["#2B5CA8", "#B3262C", "#333333", "#E5A21A"]}, "legend": null}
}
}
]
}
]
},
{
"spacing": 27,
"resolve": {"scale": {"color": "independent"}, "legend": {"color": "independent"}},
"hconcat": [
{
"title": {"text": "C", "anchor": "start", "frame": "bounds", "fontSize": 11.6, "fontWeight": "bold", "offset": -13.5, "dx": 1.5},
"bounds": "flush", "spacing": 38.5,
"resolve": {"scale": {"color": "independent"}, "legend": {"color": "independent"}},
"vconcat": [
{
"width": 242, "height": 140,
"data": {"name": "km"},
"transform": [{"filter": {"field": "p", "oneOf": ["C", "ABC", "ABCD"]}}],
"mark": {"type": "line", "interpolate": "step-after", "strokeWidth": 1.2},
"encoding": {
"x": {"field": "t", "type": "quantitative", "scale": {"domain": [0, 800], "nice": false}, "axis": {"title": "Time (days)", "values": [0,100,200,300,400,500,600,700,800]}},
"y": {"field": "v", "type": "quantitative", "scale": {"domain": [0, 100], "nice": false}, "axis": {"title": "OS estimate (%)", "values": [0,20,40,60,80,100]}},
"color": {"field": "s", "type": "nominal", "scale": {"domain": ["Chemotherapy – adjusted", "Trametinib – observed"], "range": ["#2B5CA8", "#B3262C"]}, "legend": {"orient": "none", "legendX": 152, "legendY": -5, "title": null}}
}
},
{
"width": 242, "height": {"step": 10},
"title": {"text": "No. at risk", "anchor": "start", "frame": "bounds", "fontSize": 6.1, "fontWeight": "normal", "offset": 2},
"data": {"name": "risk"},
"transform": [{"filter": {"field": "p", "oneOf": ["C", "ABC", "ABCD"]}}],
"mark": {"type": "text", "fontSize": 6.1, "align": "center", "baseline": "middle"},
"encoding": {
"x": {"field": "t", "type": "quantitative", "scale": {"domain": [0, 800], "nice": false}, "axis": null},
"y": {"field": "s", "type": "nominal", "scale": {"domain": ["Chemotherapy – adjusted", "Trametinib – observed"]}, "axis": {"title": null, "domain": false, "ticks": false, "labelAlign": "left", "labelPadding": 96, "labelFontSize": 6.1, "labelFontWeight": "normal", "labelLimit": 0, "labelColor": {"condition": {"test": "datum.value === 'Chemotherapy – adjusted'", "value": "#2B5CA8"}, "value": "#B3262C"}}},
"text": {"field": "n", "type": "quantitative"},
"color": {"field": "s", "type": "nominal", "scale": {"domain": ["Chemotherapy – adjusted", "Trametinib – observed"], "range": ["#2B5CA8", "#B3262C"]}, "legend": null}
}
}
]
},
{
"title": {"text": "D", "anchor": "start", "frame": "bounds", "fontSize": 11.6, "fontWeight": "bold", "offset": -13.5, "dx": 1.5},
"bounds": "flush", "spacing": 38.5,
"resolve": {"scale": {"color": "independent"}, "legend": {"color": "independent"}},
"vconcat": [
{
"width": 241, "height": 140,
"data": {"name": "km"},
"transform": [{"filter": {"field": "p", "oneOf": ["D", "ABCD"]}}],
"mark": {"type": "line", "interpolate": "step-after", "strokeWidth": 1.2},
"encoding": {
"x": {"field": "t", "type": "quantitative", "scale": {"domain": [0, 800], "nice": false}, "axis": {"title": "Time (days)", "values": [0,100,200,300,400,500,600,700,800]}},
"y": {"field": "v", "type": "quantitative", "scale": {"domain": [0, 100], "nice": false}, "axis": {"title": "OS estimate (%)", "values": [0,20,40,60,80,100]}},
"color": {"field": "s", "type": "nominal", "scale": {"domain": ["Chemotherapy – adjusted", "Trametinib – observed"], "range": ["#2B5CA8", "#B3262C"]}, "legend": {"orient": "none", "legendX": 149, "legendY": -5, "title": null}}
}
},
{
"width": 241, "height": {"step": 10},
"title": {"text": "No. at risk", "anchor": "start", "frame": "bounds", "fontSize": 6.1, "fontWeight": "normal", "offset": 2},
"data": {"name": "risk"},
"transform": [{"filter": {"field": "p", "oneOf": ["D", "ABCD"]}}],
"mark": {"type": "text", "fontSize": 6.1, "align": "center", "baseline": "middle"},
"encoding": {
"x": {"field": "t", "type": "quantitative", "scale": {"domain": [0, 800], "nice": false}, "axis": null},
"y": {"field": "s", "type": "nominal", "scale": {"domain": ["Chemotherapy – adjusted", "Trametinib – observed"]}, "axis": {"title": null, "domain": false, "ticks": false, "labelAlign": "left", "labelPadding": 95, "labelFontSize": 6.1, "labelFontWeight": "normal", "labelLimit": 0, "labelColor": {"condition": {"test": "datum.value === 'Chemotherapy – adjusted'", "value": "#2B5CA8"}, "value": "#B3262C"}}},
"text": {"field": "n", "type": "quantitative"},
"color": {"field": "s", "type": "nominal", "scale": {"domain": ["Chemotherapy – adjusted", "Trametinib – observed"], "range": ["#2B5CA8", "#B3262C"]}, "legend": null}
}
}
]
}
]
}
],
"config": {
"font": "Liberation Sans",
"view": {"stroke": null},
"axis": {"grid": false, "domainColor": "#000", "tickColor": "#000", "labelColor": "#000", "titleColor": "#000", "labelFont": "Liberation Sans", "titleFont": "Liberation Sans", "labelFontSize": 5.6, "labelFontWeight": "bold", "titleFontSize": 7.2, "titleFontWeight": "bold", "tickSize": 3, "labelPadding": 1.5, "domainWidth": 1, "tickWidth": 1},
"axisX": {"titlePadding": 7},
"axisY": {"titlePadding": 5, "labelPadding": 2},
"legend": {"symbolType": "stroke", "symbolSize": 64, "symbolStrokeWidth": 1.5, "labelFontSize": 6.1, "labelFont": "Liberation Sans", "labelColor": "#000", "labelOffset": 4, "rowPadding": -0.5, "padding": 0, "labelLimit": 0},
"title": {"font": "Liberation Sans", "color": "#000"},
"text": {"font": "Liberation Sans"}
}
}
